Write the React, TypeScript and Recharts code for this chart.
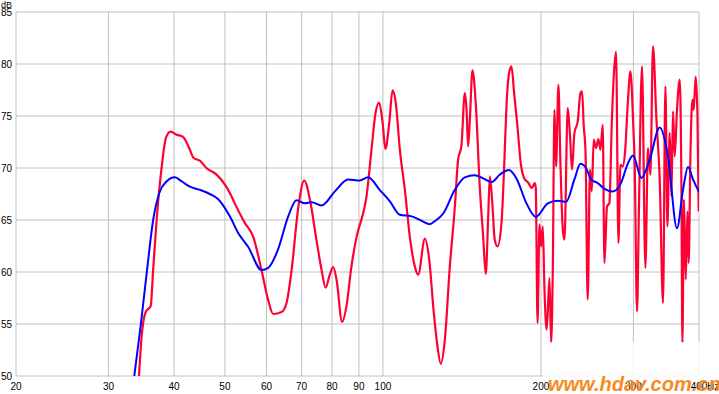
import { LineChart, Line, XAxis, YAxis, CartesianGrid } from "recharts";

const FONT = '"Liberation Sans", Arial, sans-serif';

const xTicks = [20, 30, 40, 50, 60, 70, 80, 90, 100, 200, 300, 400];
const yTicks = [50, 55, 60, 65, 70, 75, 80, 85];

// blue (smoothed) response
const blueFreq = [
  33.6, 34.55, 35.5, 36.5, 37.5, 38.7, 40.15, 41.4, 42.9, 44.8, 46.8, 48.55,
  51.1, 53.0, 55.4, 58.7, 60.45, 63.1, 66.0, 68.45, 71.0, 73.1, 76.4, 81.0,
  85.8, 90.35, 93.7, 98.6, 103.1, 107.7, 113.4, 117.6, 122.8, 125.6, 130.2,
  137.1, 143.2, 149.6, 155.2, 161.0, 166.9, 173.7, 179.6, 187.7, 195.5, 206.1,
  215.3, 223.3, 231.6, 237.8, 243.7, 249.1, 256.5, 264.2, 274.0, 284.1, 292.6,
  299.5, 310.7, 322.2, 336.7, 349.2, 363.2, 372.9, 381.2, 389.6, 400,
];
const blueDb = [
  50.0, 54.8, 60.0, 65.0, 67.6, 68.7, 69.1, 68.7, 68.2, 67.9, 67.5, 67.0,
  65.35, 63.75, 62.4, 60.2, 60.4, 62.15, 65.35, 66.9, 66.6, 66.7, 66.4, 67.75,
  68.9, 68.8, 69.1, 67.9, 66.8, 65.5, 65.35, 65.0, 64.6, 64.9, 65.6,
  67.9, 69.1, 69.3, 69.0, 68.65, 69.35, 69.8, 69.0, 66.6, 65.3, 66.6,
  66.85, 66.75, 68.9, 70.4, 70.0, 68.9, 68.55, 68.0, 67.75, 68.55, 70.4,
  71.2, 69.05, 70.8, 73.9, 71.1, 64.2, 67.9, 70.1, 68.9, 67.7,
];

// red (raw) response
const redFreq = [
  34.3, 34.7, 35.36, 36.1, 36.5, 37.06, 37.9, 38.6, 39.4, 40.46, 41.6, 42.6,
  43.6, 44.8, 46.1, 48.2, 50, 51.1, 52.2, 54.6, 56.6, 58.7, 60.45, 61.8, 64.1,
  65.5, 67.0, 68.9, 70.8, 72.6, 74.7, 76.4, 77.75, 79.2, 80.4, 81.6, 83.6,
  85.2, 87.1, 89.1, 91.7, 93.05, 95.1, 96.8, 98.35, 99.8, 101.1, 102.8, 104.3,
  105.8, 107.7, 110.1, 112.5, 115.0, 116.7, 120.2, 122.5, 125.0, 126.8, 128.9,
  131.2, 134.1, 137.1, 139.05, 141.1, 143.2, 144.3, 145.3, 146.4, 148.1, 150.1,
  152.9, 155.2, 157.0, 158.6, 159.8, 161.4, 163.3, 165.3, 168.2, 170.1, 171.9,
  173.9, 175.7, 177.8, 180.4, 183.0, 185.7, 189.0, 192.3, 194.6, 195.5, 197.0,
  198.7, 200.1, 201.6, 203.1, 205.1, 207.6, 209.1, 210.6, 212.2, 213.7, 215.9,
  217.9, 220.1, 221.7, 224.9, 227.2, 229.2, 231.6, 235.0, 237.8, 239.5, 241.3,
  243.1, 245.5, 248.0, 249.9, 252.1, 254.6, 257.3, 259.6, 262.2, 264.2, 267.2,
  270.0, 272.8, 275.2, 278.0, 280.9, 283.4, 286.3, 289.1, 292.6, 296.1, 299.6,
  301.7, 304.8, 307.4, 311.5, 316.2, 319.8, 323.2, 326.9, 331.8, 336.7, 341.6,
  345.2, 348.2, 351.8, 354.4, 356.9, 359.6, 363.2, 367.6, 370.3, 371.9, 374.5,
  377.4, 380.2, 382.3, 385.2, 388.6, 390.8, 394.2, 397.2, 399.5,
];
const redDb = [
  50, 53.8, 56.2, 56.7, 60.2, 65.0, 70.15, 72.9, 73.5, 73.2, 73.0, 72.1,
  70.96, 70.7, 70.0, 69.36, 68.4, 67.6, 66.6, 64.7, 63.4, 60.2, 57.3, 55.96, 56.15,
  57.0, 60.2, 66.0, 68.8, 66.95, 63.1, 60.2, 58.5, 59.74, 60.48, 59.26, 55.2,
  56.7, 60.54, 63.4, 65.67, 67.27, 71.76, 75.29, 76.3, 74.48, 71.83, 74.33, 77.46,
  76.25, 71.76, 67.9, 63.4, 60.54, 59.74, 63.2, 61.18, 56.06, 53.17, 51.18,
  53.5, 60.54, 66.3, 70.8, 72.14, 77.2, 75.6, 72.08, 74.64, 79.4, 76.57,
  68.23, 63.4, 59.8, 65.03, 69.2, 66.95, 63.1, 62.46, 64.7, 69.84, 75.92,
  79.13, 79.77, 77.2, 74.0, 70.48, 69.04, 68.6, 68.08, 68.56, 68.08, 55.1,
  64.55, 62.46, 64.4, 58.3, 54.45, 59.42, 53.17, 59.9, 75.6, 70.15, 78.0,
  70.15, 64.07, 63.1, 75.77, 73.04, 69.84, 73.37, 74.48, 77.2, 77.37, 74.0,
  71.76, 57.34, 69.84, 67.75, 72.72, 71.92, 72.79, 71.76, 74.16, 60.87, 66.3,
  66.63, 74.16, 78.8, 81.2, 62.8, 70.3, 70.15, 71.44, 76.09, 79.29, 74.48,
  70.3, 56.2, 66.3, 79.77, 60.38, 71.92, 69.36, 81.69, 74.8, 68.88, 57.02,
  77.85, 64.38, 73.37, 67.27, 75.44, 71.12, 75.6, 78.49, 68.23, 53.17, 66.95,
  59.26, 65.83, 60.87, 71.12, 76.57, 75.6, 78.8, 75.29, 65.83,
];

const blueData = blueFreq.map((f, i) => ({ f, db: blueDb[i] }));
const redData = redFreq.map((f, i) => ({ f, db: redDb[i] }));

const XTick = (props: any) => {
  const { x, payload } = props;
  const v = payload.value;
  return (
    <g>
      <text x={x} y={390} textAnchor="middle" fontSize={10} fontFamily={FONT} fill="#000">
        {v}
      </text>
      {v === 400 && (
        <text x={x + 8} y={390} textAnchor="start" fontSize={10} fontFamily={FONT} fill="#000">
          Hz
        </text>
      )}
    </g>
  );
};

const YTick = (props: any) => {
  const { y, payload } = props;
  const v = payload.value;
  return (
    <g>
      {v === 85 && (
        <text x={1} y={8} textAnchor="start" fontSize={9} fontFamily={FONT} fill="#000">
          dB
        </text>
      )}
      <text x={12} y={y} textAnchor="end" dominantBaseline="central" fontSize={10} fontFamily={FONT} fill="#000">
        {v}
      </text>
    </g>
  );
};

export default function App() {
  return (
    <div style={{ position: "absolute", left: 0, top: 0, width: 719, height: 394, background: "#fff" }}>
      <LineChart width={719} height={394} margin={{ top: 12, right: 20, bottom: 0, left: 0 }}>
        <CartesianGrid stroke="#c0c0c0" strokeWidth={1} />
        <XAxis
          dataKey="f"
          type="number"
          scale="log"
          domain={[20, 400]}
          ticks={xTicks}
          allowDataOverflow
          axisLine={false}
          tickLine={false}
          height={18}
          tick={<XTick />}
          interval={0}
        />
        <YAxis
          type="number"
          domain={[50, 85]}
          ticks={yTicks}
          allowDataOverflow
          axisLine={false}
          tickLine={false}
          width={16}
          tick={<YTick />}
          interval={0}
        />
        <Line
          data={redData}
          dataKey="db"
          type="monotone"
          stroke="#ff0033"
          strokeWidth={2.2}
          dot={false}
          activeDot={false}
          isAnimationActive={false}
        />
        <Line
          data={blueData}
          dataKey="db"
          type="monotone"
          stroke="#0000ff"
          strokeWidth={2}
          dot={false}
          activeDot={false}
          isAnimationActive={false}
        />
      </LineChart>
      <svg
        width={719}
        height={394}
        style={{ position: "absolute", left: 0, top: 0, pointerEvents: "none" }}
      >
        <rect x={543} y={342} width={176} height={36} fill="#fff" fillOpacity={0.8} />
        <text
          x={548}
          y={391}
          fontSize={20}
          fontWeight="bold"
          fontStyle="italic"
          fontFamily={FONT}
          fill="#f68b1f"
        >
          www.hdav.com.cn
        </text>
      </svg>
    </div>
  );
}
